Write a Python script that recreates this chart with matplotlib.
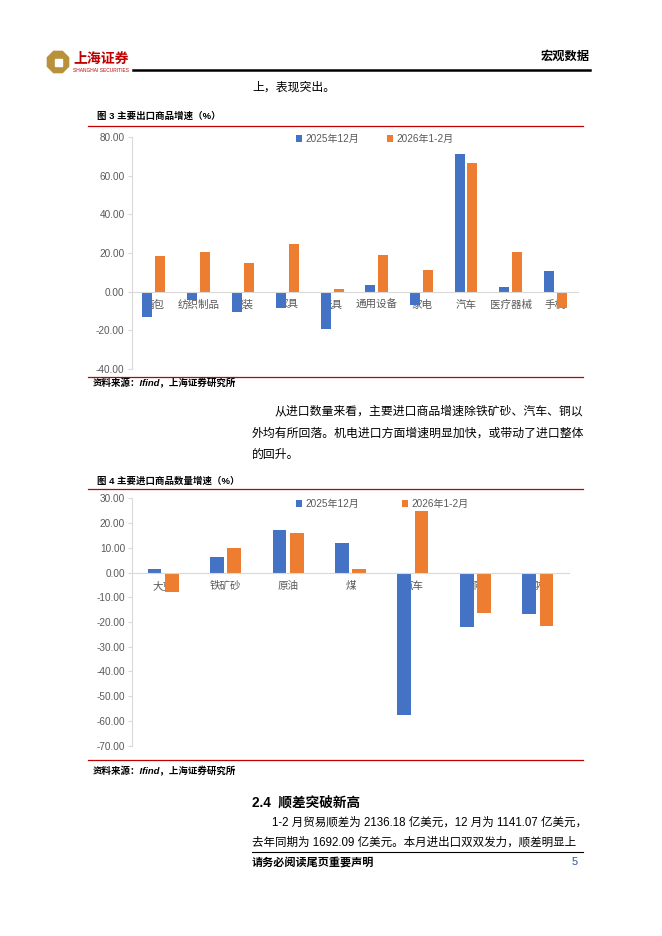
"""
Recreate page 5 of the trade report: export / import growth bar charts.
"""

import matplotlib

matplotlib.use("Agg")
import matplotlib.pyplot as plt
import numpy as np
from matplotlib.patches import RegularPolygon, Rectangle
from matplotlib.ticker import FormatStrFormatter

plt.rcParams["font.family"] = ["Liberation Sans", "Noto Sans CJK SC", "DejaVu Sans"]

W, H = 662, 936

SERIES = ["2025年12月", "2026年1-2月"]

EXPORT_CATS = ["箱包", "纺织制品", "服装", "家具", "玩具",
               "通用设备", "家电", "汽车", "医疗器械", "手机"]
EXPORT_DEC = [-13.3, -4.3, -10.4, -8.8, -19.5, 3.5, -6.9, 71.5, 2.1, 10.4]
EXPORT_JANFEB = [18.5, 20.4, 14.7, 24.7, 1.4, 19.0, 11.2, 66.8, 20.6, -8.6]

IMPORT_CATS = ["大豆", "铁矿砂", "原油", "煤", "汽车", "铜", "钢材"]
IMPORT_DEC = [1.3, 6.3, 17.0, 12.0, -57.7, -22.0, -16.7]
IMPORT_JANFEB = [-7.8, 10.0, 15.8, 1.5, 24.7, -16.2, -21.8]

BLUE = "#4472C4"
ORANGE = "#ED7D31"
GREY = "#595959"
AXIS = "#D9D9D9"
RED = "#C00000"


def axes_box(fig, left, top, right, bottom):
    """Add axes from pixel box (y measured from top)."""
    return fig.add_axes([left / W, 1 - bottom / H, (right - left) / W, (bottom - top) / H])


def bar_chart(ax, cats, s1, s2, ylim, step, width, offset):
    x = np.arange(len(cats))
    ax.bar(x - offset, s1, width, color=BLUE, label=SERIES[0])
    ax.bar(x + offset, s2, width, color=ORANGE, label=SERIES[1])
    ax.set_xlim(-0.5, len(cats) - 0.5)
    ax.set_ylim(*ylim)
    ax.set_yticks(np.arange(ylim[0], ylim[1] + step / 2, step))
    ax.yaxis.set_major_formatter(FormatStrFormatter("%.2f"))
    ax.set_xticks(x, cats)
    ax.set_axisbelow(True)
    ax.spines["bottom"].set_position(("data", 0))
    for s in ["top", "right"]:
        ax.spines[s].set_visible(False)
    ax.spines["left"].set_color(AXIS)
    ax.spines["bottom"].set_color(AXIS)
    ax.tick_params(axis="x", length=0, pad=6, labelsize=7.6, labelcolor=GREY)
    ax.tick_params(axis="y", length=3, color=AXIS, labelsize=7.2, labelcolor=GREY, pad=2)
    ax.patch.set_alpha(0)


def main() -> None:
    fig = plt.figure(figsize=(W / 100, H / 100), dpi=100)

    # page layer in pixel coordinates
    pg = fig.add_axes([0, 0, 1, 1], zorder=-1)
    pg.set_xlim(0, W)
    pg.set_ylim(H, 0)
    pg.axis("off")

    # logo
    pg.add_patch(RegularPolygon((58, 62), 8, radius=11.5, orientation=np.pi / 8,
                                color="#B8913A"))
    pg.add_patch(Rectangle((54.5, 58.5), 7, 7, color="white"))
    pg.text(73, 59, "上海证券", fontsize=10, fontweight="bold", color=RED, va="center")
    pg.text(73, 71, "SHANGHAI SECURITIES", fontsize=3.5, color=RED, va="center")
    pg.text(590, 57, "宏观数据", fontsize=8.8, fontweight="bold", ha="right", va="center")
    pg.plot([133, 590], [70, 70], color="black", lw=1.8)

    body = dict(fontsize=8.55, va="center", color="black")
    mixed = dict(fontsize=8.3, va="center", color="black")
    pg.text(252, 88, "上，表现突出。", **body)

    # figure 3
    pg.text(97, 116, "图 3 主要出口商品增速（%）", fontsize=6.8, fontweight="bold", va="center")
    pg.plot([88, 583], [125.5, 125.5], color=RED, lw=0.9)
    pg.plot([88, 583], [377, 377], color=RED, lw=0.9)
    pg.text(93, 383, "资料来源：Ifind，上海证券研究所", fontsize=6.8, fontweight="bold",
            fontstyle="italic", va="center")

    pg.text(275, 411, "从进口数量来看，主要进口商品增速除铁矿砂、汽车、铜以", **body)
    pg.text(252, 434, "外均有所回落。机电进口方面增速明显加快，或带动了进口整体", **body)
    pg.text(252, 455, "的回升。", **body)

    # figure 4
    pg.text(97, 481, "图 4 主要进口商品数量增速（%）", fontsize=6.8, fontweight="bold", va="center")
    pg.plot([88, 583], [489, 489], color=RED, lw=0.9)
    pg.plot([88, 583], [760, 760], color=RED, lw=0.9)
    pg.text(93, 771, "资料来源：Ifind，上海证券研究所", fontsize=6.8, fontweight="bold",
            fontstyle="italic", va="center")

    pg.text(252, 803, "2.4  顺差突破新高", fontsize=9.8, fontweight="bold", va="center")
    pg.text(272, 823, "1-2 月贸易顺差为 2136.18 亿美元，12 月为 1141.07 亿美元，", **mixed)
    pg.text(252, 843, "去年同期为 1692.09 亿美元。本月进出口双双发力，顺差明显上", **mixed)
    pg.plot([252, 583], [852, 852], color="black", lw=0.8)
    pg.text(252, 862, "请务必阅读尾页重要声明", fontsize=8, fontweight="bold", va="center")
    pg.text(578, 862, "5", fontsize=8, color="#2F5597", ha="right", va="center")

    ax1 = axes_box(fig, 131.5, 137.3, 577.5, 368.6)
    bar_chart(ax1, EXPORT_CATS, EXPORT_DEC, EXPORT_JANFEB, (-40, 80), 20, 0.224, 0.143)
    ax1.legend(ncol=2, loc="center left", bbox_to_anchor=(296 / W, 1 - 139 / H),
               bbox_transform=fig.transFigure, frameon=False, fontsize=7.2,
               labelcolor=GREY, handlelength=0.6, handleheight=0.6, handletextpad=0.35,
               columnspacing=2.8, borderpad=0, borderaxespad=0)

    ax2 = axes_box(fig, 132, 498.3, 569, 745.7)
    bar_chart(ax2, IMPORT_CATS, IMPORT_DEC, IMPORT_JANFEB, (-70, 30), 10, 0.22, 0.139)
    ax2.legend(ncol=2, loc="center left", bbox_to_anchor=(296 / W, 1 - 504 / H),
               bbox_transform=fig.transFigure, frameon=False, fontsize=7.2,
               labelcolor=GREY, handlelength=0.6, handleheight=0.6, handletextpad=0.35,
               columnspacing=4.3, borderpad=0, borderaxespad=0)

    fig.savefig("out.png", dpi=100)


if __name__ == "__main__":
    main()
